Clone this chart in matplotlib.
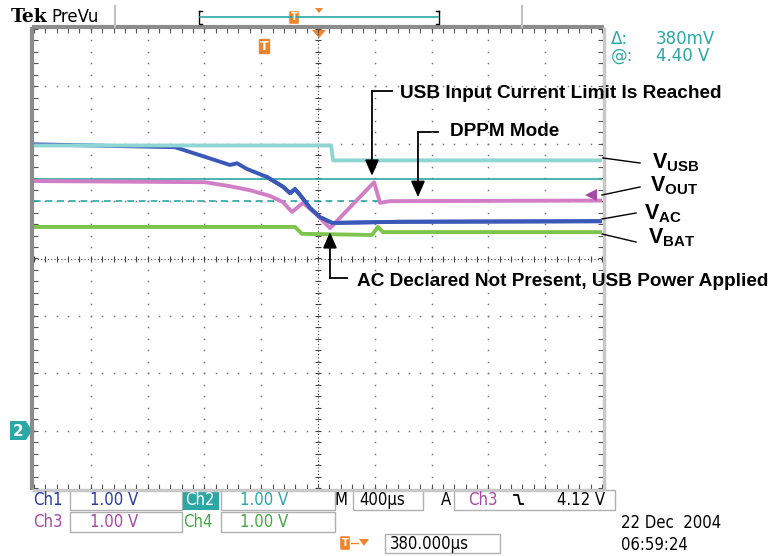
import numpy as np
import matplotlib
matplotlib.use('Agg')
import matplotlib.pyplot as plt
from matplotlib.patches import Rectangle, FancyBboxPatch, Polygon

plt.rcParams['mathtext.fontset'] = 'custom'
plt.rcParams['mathtext.bf'] = 'Liberation Sans:bold'
plt.rcParams['mathtext.rm'] = 'Liberation Sans'

# %% trace data
# time in us from left edge of screen (400 us/div), voltage in divisions from center (1 V/div)
t_usb = [0, 2092, 2106, 4000]
v_usb = [1.97, 1.97, 1.71, 1.71]

t_out = [0, 1204, 1380, 1521, 1662, 1754, 1817, 1894, 1979, 2085, 2395, 2437, 2507, 4000]
v_out = [1.35, 1.33, 1.26, 1.19, 1.09, 0.98, 0.81, 0.97, 0.79, 0.53, 1.33, 0.97, 1.00, 1.01]

t_ac = [0, 993, 1169, 1380, 1430, 1500, 1641, 1754, 1803, 1838, 1873, 1944, 2014, 2099, 2577, 4000]
v_ac = [1.99, 1.94, 1.80, 1.63, 1.66, 1.56, 1.42, 1.25, 1.14, 1.21, 1.11, 0.88, 0.72, 0.62, 0.64, 0.65]

t_bat = [0, 1838, 1887, 2380, 2422, 2458, 4000]
v_bat = [0.55, 0.55, 0.43, 0.41, 0.55, 0.46, 0.46]

cursor_solid = 1.39
cursor_dash = 1.00

# annotation arrow tips (us, div)
tip_usb = (2380, 1.44)
tip_dppm = (2704, 1.07)
tip_ac = (2084, 0.46)

col_ch1 = '#3a58b8'
col_ch2 = '#8fd5d3'
col_ch3 = '#d27ec6'
col_ch4 = '#7cc44c'
teal = '#2aa8a6'
purple = '#a848a8'
orange = '#f0842c'
grey = '#7a7a7a'

W, H = 769, 556
fig = plt.figure(figsize=(W / 100, H / 100), dpi=100)
fig.patch.set_facecolor('white')

# overlay in pixel coordinates for the scope furniture
ov = fig.add_axes([0, 0, 1, 1])
ov.set_xlim(0, W)
ov.set_ylim(H, 0)
ov.axis('off')
ov.patch.set_alpha(0)

gl, gr, gt, gb = 34, 602, 29, 488
ax = fig.add_axes([gl / W, (H - gb) / H, (gr - gl) / W, (gb - gt) / H])
ax.set_xlim(0, 4000)
ax.set_ylim(-4, 4)
ax.axis('off')
ax.patch.set_alpha(0)

# %% graticule
for k in range(1, 10):
    if k == 5:
        continue
    ys = np.arange(-4, 4.001, 0.2)
    ax.plot(np.full_like(ys, 400 * k), ys, ls='none', marker='s', ms=1.1, mew=0, color=grey)
for k in range(-3, 4):
    if k == 0:
        continue
    xs = np.arange(0, 4001, 80)
    ax.plot(xs, np.full_like(xs, k, dtype=float), ls='none', marker='s', ms=1.1, mew=0, color=grey)
# center cross
ax.plot([0, 4000], [0, 0], color='#444444', lw=0.8, ls=(0, (1, 2)))
ax.plot([2000, 2000], [-4, 4], color='#444444', lw=0.8, ls=(0, (1, 2)))
xs = np.arange(0, 4001, 80)
ax.plot(xs, np.zeros_like(xs), ls='none', marker='|', ms=5, mew=0.8, color='#444444')
ys = np.arange(-4, 4.001, 0.2)
ax.plot(np.full_like(ys, 2000), ys, ls='none', marker='_', ms=5, mew=0.8, color='#444444')
# edge ticks
ax.plot(xs, np.full_like(xs, 4.0, dtype=float), ls='none', marker='|', ms=6, mew=0.8, color='#555555')
ax.plot(xs, np.full_like(xs, -4.0, dtype=float), ls='none', marker='|', ms=6, mew=0.8, color='#555555')
ax.plot(np.zeros_like(ys), ys, ls='none', marker='_', ms=6, mew=0.8, color='#555555')
ax.plot(np.full_like(ys, 4000), ys, ls='none', marker='_', ms=6, mew=0.8, color='#555555')

# frame
ov.plot([gl - 2, gl - 2], [gt - 2, gb + 2], color='#8c8c8c', lw=3, solid_capstyle='butt')
ov.plot([gl - 2, gr + 2], [gt - 2, gt - 2], color='#8c8c8c', lw=3, solid_capstyle='butt')
ov.plot([gr + 2, gr + 2], [gt - 2, gb + 2], color='#c8c8c8', lw=2.5, solid_capstyle='butt')
ov.plot([gl - 2, gr + 2], [gb + 2, gb + 2], color='#c8c8c8', lw=2.5, solid_capstyle='butt')

# %% cursors and traces
ax.axhline(cursor_solid, color=teal, lw=1.2)
ax.axhline(cursor_dash, color=teal, lw=1.2, ls=(0, (4, 3)))

ax.plot(t_ac, v_ac, color=col_ch1, lw=2.8, solid_joinstyle='round')
ax.plot(t_usb, v_usb, color=col_ch2, lw=2.8, solid_joinstyle='round')
ax.plot(t_out, v_out, color=col_ch3, lw=2.8, solid_joinstyle='round')
ax.plot(t_ac[6:], v_ac[6:], color=col_ch1, lw=2.8, solid_joinstyle='round')
ax.plot(t_bat, v_bat, color=col_ch4, lw=2.8, solid_joinstyle='round')

# ch3 trigger level marker
ax.plot([3925], [1.1], marker='<', ms=8, color=purple, mew=0)

# %% annotations
ap = dict(arrowstyle='-|>,head_length=0.8,head_width=0.35', color='black', lw=1.3,
          mutation_scale=12, shrinkA=0, shrinkB=0)
ax.annotate('', xy=tip_usb, xytext=(372, 91), textcoords=ov.transData, arrowprops=ap)
ov.plot([372, 392], [91, 91], color='black', lw=1.3)
ov.text(400, 93, 'USB Input Current Limit Is Reached', fontsize=13.7, fontweight='bold',
        family='Liberation Sans', va='center', ha='left')

ax.annotate('', xy=tip_dppm, xytext=(418, 132), textcoords=ov.transData, arrowprops=ap)
ov.plot([418, 438], [132, 132], color='black', lw=1.3)
ov.text(450, 131, 'DPPM Mode', fontsize=13.7, fontweight='bold',
        family='Liberation Sans', va='center', ha='left')

ax.annotate('', xy=tip_ac, xytext=(330, 278), textcoords=ov.transData, arrowprops=ap)
ov.plot([330, 347], [278, 278], color='black', lw=1.3)
ov.text(357, 281, 'AC Declared Not Present, USB Power Applied', fontsize=13.7, fontweight='bold',
        family='Liberation Sans', va='center', ha='left')

# right side labels
labels = [r'$\mathbf{V}_{\mathbf{USB}}$', r'$\mathbf{V}_{\mathbf{OUT}}$',
          r'$\mathbf{V}_{\mathbf{AC}}$', r'$\mathbf{V}_{\mathbf{BAT}}$']
lab_xy = [(652, 163), (650, 186), (644, 214), (648, 238)]
lead = [((603, 158), (640, 163)), ((602, 195), (640, 187)),
        ((602, 219), (636, 213)), ((602, 234), (636, 242))]
for s, (x, y), (p0, p1) in zip(labels, lab_xy, lead):
    ov.text(x, y, s, fontsize=15.5, va='center', ha='left')
    ov.plot([p0[0], p1[0]], [p0[1], p1[1]], color='black', lw=1)

# %% header
ov.text(11, 17, 'Tek', family='DejaVu Serif', fontweight='bold', fontsize=13.5, va='center')
ov.text(51, 17, 'PreVu', family='DejaVu Sans', fontsize=12, va='center')
ov.plot([115, 115], [6, 27], color='#c0c0c0', lw=1.5)
ov.plot([522, 522], [6, 27], color='#c0c0c0', lw=1.5)
ov.plot([199, 199, 202], [11, 24, 24], color='black', lw=1)
ov.plot([199, 202], [11, 11], color='black', lw=1)
ov.plot([439, 439, 436], [11, 24, 24], color='black', lw=1)
ov.plot([439, 436], [11, 11], color='black', lw=1)
ov.plot([200, 438], [17, 17], color=teal, lw=1.2)
ov.add_patch(FancyBboxPatch((290, 12), 8, 11, boxstyle='round,pad=0.8', fc=orange, ec='none'))
ov.text(294, 17.5, 'T', color='white', fontsize=7, fontweight='bold', ha='center', va='center')
ov.add_patch(Polygon([[315, 8], [323, 8], [319, 13]], closed=True, fc=orange, ec='none'))

# trigger markers on graticule
ov.add_patch(Polygon([[312, 30], [326, 30], [319, 38]], closed=True, fc=orange, ec='none'))
ov.add_patch(FancyBboxPatch((260, 40), 9, 13, boxstyle='round,pad=1.2', fc=orange, ec='none'))
ov.text(264.5, 47, 'T', color='white', fontsize=9, fontweight='bold', ha='center', va='center')

# ch2 ground marker
ov.add_patch(Polygon([[10, 421], [26, 421], [32, 430.5], [26, 440], [10, 440]], closed=True,
                     fc='#2aa8a6', ec='none'))
ov.text(18, 431, '2', color='white', fontsize=11, fontweight='bold', ha='center', va='center')

# cursor readout
ov.text(611, 39, 'Δ:', color=teal, fontsize=12, va='center')
ov.text(656, 39, '380mV', color=teal, fontsize=12, va='center')
ov.text(611, 56, '@:', color=teal, fontsize=12, va='center')
ov.text(656, 56, '4.40 V', color=teal, fontsize=12, va='center')

# %% bottom readouts
fs = 12
box_ec = '#b0b0b0'
def box(x0, y0, x1, y1):
    ov.add_patch(Rectangle((x0, y0), x1 - x0, y1 - y0, fc='none', ec=box_ec, lw=1))

ov.text(33, 500, 'Ch1', color='#2a3aa0', fontsize=fs, va='center', fontstretch='condensed')
box(70, 490, 182, 510)
ov.text(90, 500, '1.00 V', color='#2a3aa0', fontsize=fs, va='center', fontstretch='condensed')
ov.add_patch(Rectangle((183, 490), 36, 20, fc='#2aa8a6', ec='none'))
ov.text(185, 500, 'Ch2', color='white', fontsize=fs, va='center', fontstretch='condensed')
box(221, 490, 335, 510)
ov.text(240, 500, '1.00 V', color=teal, fontsize=fs, va='center', fontstretch='condensed')
ov.text(335, 500, 'M', color='black', fontsize=fs, va='center', fontstretch='condensed')
box(353, 490, 423, 510)
ov.text(359, 500, '400µs', color='black', fontsize=fs, va='center', fontstretch='condensed')
ov.text(441, 500, 'A', color='black', fontsize=fs, va='center', fontstretch='condensed')
box(454, 490, 615, 510)
ov.text(468, 500, 'Ch3', color=purple, fontsize=fs, va='center', fontstretch='condensed')
ov.plot([514, 518, 520, 523], [495, 495, 504, 504], color='black', lw=1.3)
ov.text(605, 500, '4.12 V', color='black', fontsize=fs, va='center', ha='right', fontstretch='condensed')

ov.text(33, 522, 'Ch3', color=purple, fontsize=fs, va='center', fontstretch='condensed')
box(70, 512, 182, 532)
ov.text(90, 522, '1.00 V', color=purple, fontsize=fs, va='center', fontstretch='condensed')
ov.text(183, 522, 'Ch4', color='#44a844', fontsize=fs, va='center', fontstretch='condensed')
box(221, 512, 335, 532)
ov.text(240, 522, '1.00 V', color='#44a844', fontsize=fs, va='center', fontstretch='condensed')

ov.add_patch(FancyBboxPatch((341, 537), 8, 12, boxstyle='round,pad=0.8', fc=orange, ec='none'))
ov.text(345, 543, 'T', color='white', fontsize=7, fontweight='bold', ha='center', va='center')
ov.plot([351, 358], [543, 543], color=orange, lw=1)
ov.add_patch(Polygon([[359, 539], [369, 539], [364, 546]], closed=True, fc=orange, ec='none'))
box(385, 534, 500, 553)
ov.text(390, 544, '380.000µs', color='black', fontsize=fs, va='center', fontstretch='condensed')

ov.text(621, 523, '22 Dec  2004', color='black', fontsize=fs, va='center', fontstretch='condensed')
ov.text(621, 545, '06:59:24', color='black', fontsize=fs, va='center', fontstretch='condensed')

fig.savefig('out.png', dpi=100, facecolor='white')
